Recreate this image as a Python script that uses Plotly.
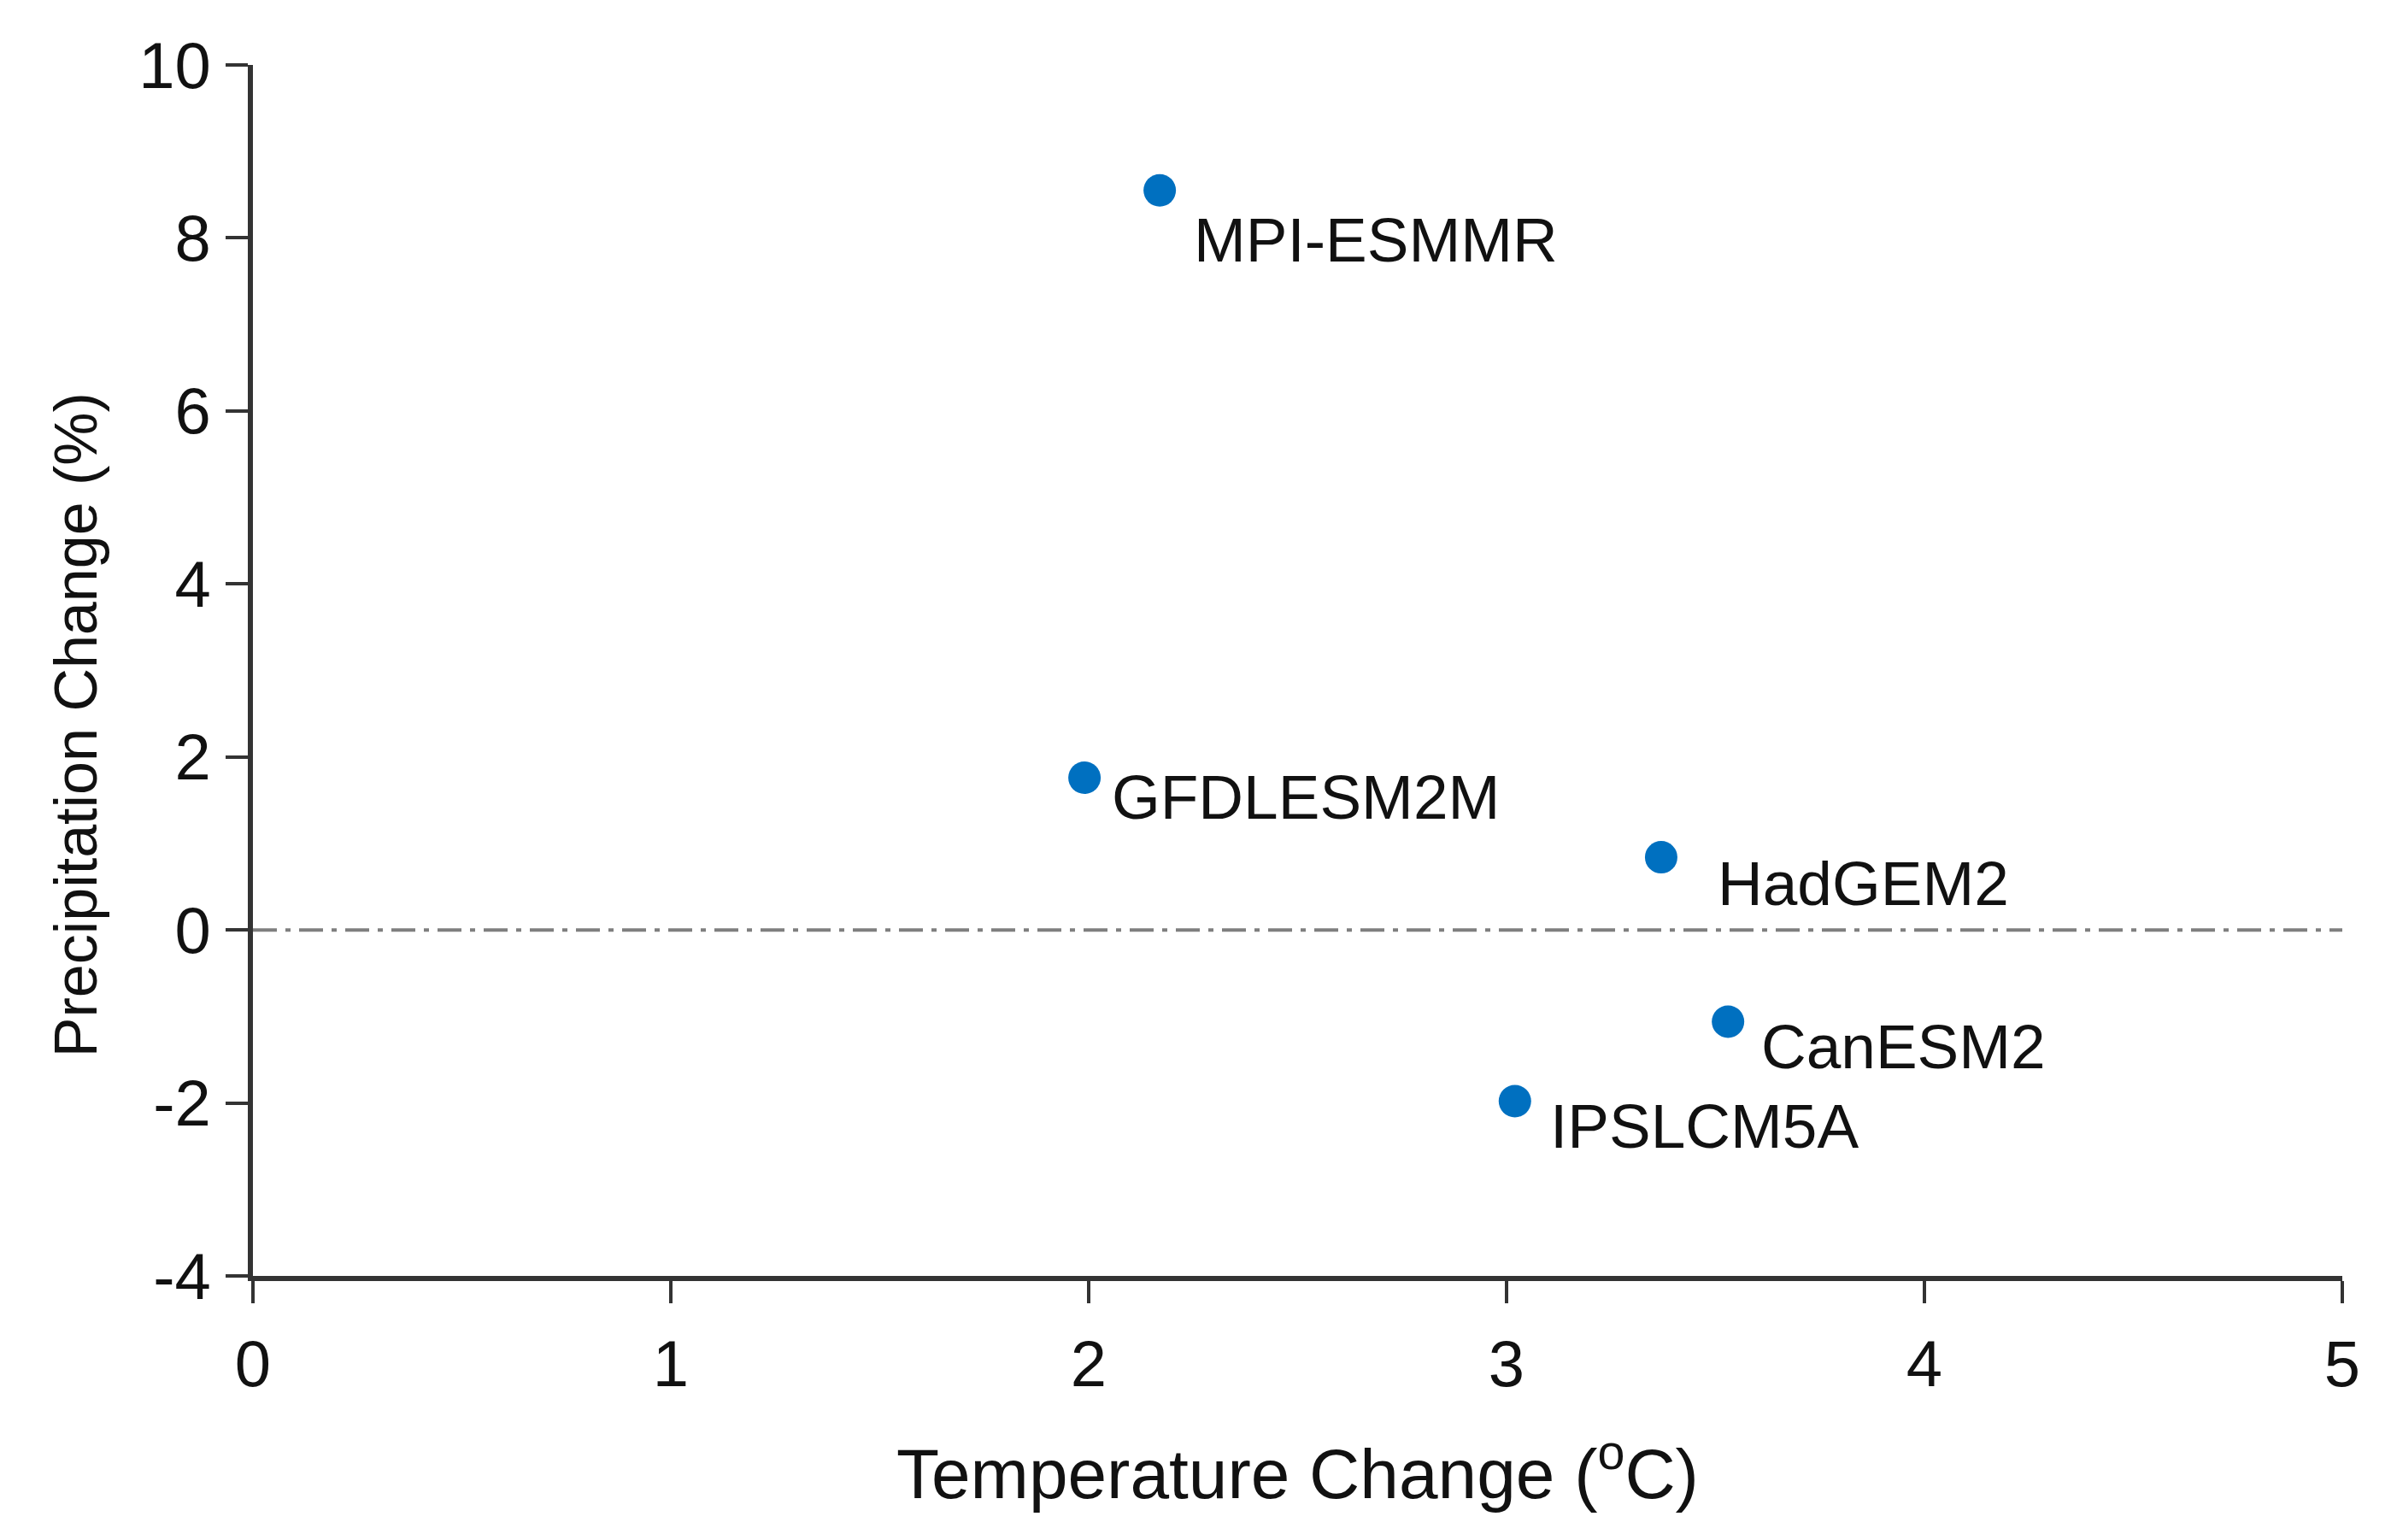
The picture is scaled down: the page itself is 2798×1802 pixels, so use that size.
import plotly.graph_objects as go

# ---- data ----
models = ["MPI-ESMMR", "GFDLESM2M", "HadGEM2", "CanESM2", "IPSLCM5A"]
temp_change = [2.17, 1.99, 3.37, 3.53, 3.02]
precip_change = [8.55, 1.76, 0.84, -1.06, -1.98]
x_ticks = [0, 1, 2, 3, 4, 5]
y_ticks = [-4, -2, 0, 2, 4, 6, 8, 10]

# label pixel offsets (styling only)
label_dx = [38, 30, 64, 37, 39]
label_dy = [-58, -22, -30, -29, -29]

FONT = "Liberation Sans, Arial, sans-serif"
AXIS_COLOR = "#333333"
TEXT_COLOR = "#111111"

fig = go.Figure()

# zero reference line (dash-dot)
fig.add_shape(type="line", xref="paper", x0=0, x1=1, yref="y", y0=0, y1=0,
              line=dict(color="#7f7f7f", width=4, dash="28px,10px,6px,10px"),
              layer="below")

fig.add_trace(go.Scatter(
    x=temp_change, y=precip_change, mode="markers",
    marker=dict(size=38, color="#0070C0", line=dict(width=0)),
    hoverinfo="text", text=models, showlegend=False,
))

for m, xv, yv, dx, dy in zip(models, temp_change, precip_change, label_dx, label_dy):
    fig.add_annotation(x=xv, y=yv, text=m, showarrow=False,
                       xanchor="left", yanchor="middle",
                       xshift=dx, yshift=dy,
                       font=dict(family=FONT, size=73, color=TEXT_COLOR))

# axis titles as annotations for precise placement
fig.add_annotation(xref="paper", yref="paper", x=0.5, y=0, yshift=-225,
                   text="Temperature Change (<sup>o</sup>C)", showarrow=False,
                   xanchor="center", yanchor="middle",
                   font=dict(family=FONT, size=82, color=TEXT_COLOR))
fig.add_annotation(xref="paper", yref="paper", x=0, y=0.455, xshift=-207,
                   text="Precipitation Change (%)", showarrow=False, textangle=-90,
                   xanchor="center", yanchor="middle",
                   font=dict(family=FONT, size=70, color=TEXT_COLOR))

fig.update_layout(
    width=2798, height=1802,
    paper_bgcolor="white", plot_bgcolor="white",
    margin=dict(l=288, r=65, t=68, b=317),
    font=dict(family=FONT, color=TEXT_COLOR),
)

fig.update_xaxes(
    range=[0, 5], tickvals=x_ticks, ticktext=[str(v) for v in x_ticks],
    showgrid=False, zeroline=False,
    showline=True, linecolor=AXIS_COLOR, linewidth=6,
    ticks="outside", ticklen=26, tickwidth=4, tickcolor=AXIS_COLOR,
    tickfont=dict(family=FONT, size=76, color=TEXT_COLOR),
    ticklabelstandoff=6,
)
fig.update_yaxes(
    range=[-4, 10], tickvals=y_ticks, ticktext=[str(v) for v in y_ticks],
    showgrid=False, zeroline=False,
    showline=True, linecolor=AXIS_COLOR, linewidth=6,
    ticks="outside", ticklen=26, tickwidth=4, tickcolor=AXIS_COLOR,
    tickfont=dict(family=FONT, size=76, color=TEXT_COLOR),
    ticklabelstandoff=2,
)

fig.write_html("out.html")
